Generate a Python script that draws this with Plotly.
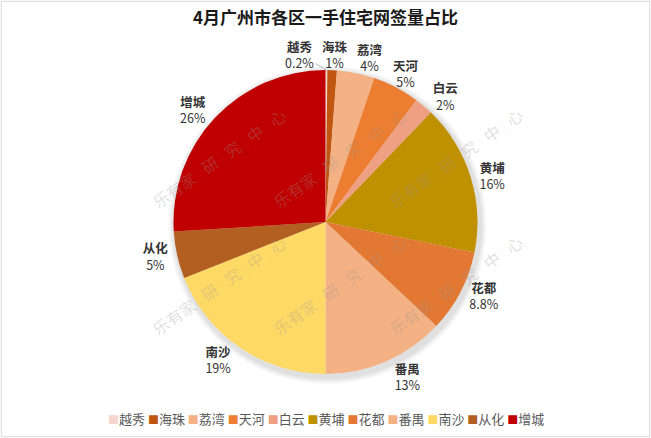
import math
import plotly.graph_objects as go

# ---- data ----
districts = ["越秀", "海珠", "荔湾", "天河", "白云", "黄埔", "花都", "番禺", "南沙", "从化", "增城"]
shares = [0.2, 1, 4, 5, 2, 16, 8.8, 13, 19, 5, 26]
share_labels = ["0.2%", "1%", "4%", "5%", "2%", "16%", "8.8%", "13%", "19%", "5%", "26%"]
colors = ["#F6D5CE", "#C0560F", "#F4B183", "#ED7D31", "#F0A082", "#BF9000",
          "#E37833", "#F4B183", "#FFD966", "#B35F22", "#C00000"]
title_text = "4月广州市各区一手住宅网签量占比"
sep = "<span style='color:rgba(170,170,170,0.25)'>|</span>"
watermark_text = f"乐有家 {sep} 研 {sep} 究 {sep} 中 {sep} 心"

W, H = 651, 438
FONT = "Noto Sans CJK SC"
CX, CY = 0.5, 0.493          # pie centre (paper)
R_PX = 152                   # pie radius (px)
LABEL_FONT = dict(family=FONT, size=12.5, color="#333333")
N_TOP = 4                    # crowded top slices labelled by annotations
TOP_NUDGE_PX = [0, 2, 11, 2] # small horizontal spacing tweaks for those labels

fig = go.Figure()

# soft shadow behind the pie
for extra, alpha in [(7, 0.035), (5, 0.04), (3, 0.05)]:
    rr = R_PX + extra
    sx, sy = CX + 2 / W, CY - 3 / H
    fig.add_trace(go.Pie(
        values=[1], labels=["shadow"], sort=False,
        marker=dict(colors=[f"rgba(0,0,0,{alpha})"], line=dict(width=0)),
        textinfo="none", hoverinfo="skip", showlegend=False,
        domain=dict(x=[sx - rr / W, sx + rr / W], y=[sy - rr / H, sy + rr / H]),
    ))

positions = ["none"] * N_TOP + ["outside"] * (len(districts) - N_TOP)

fig.add_trace(go.Pie(
    labels=districts,
    values=shares,
    text=share_labels,
    sort=False,
    direction="clockwise",
    rotation=0,
    marker=dict(colors=colors, line=dict(width=0)),
    textposition=positions,
    texttemplate="<b>%{label}</b><br>%{text}",
    textfont=LABEL_FONT,
    domain=dict(x=[CX - R_PX / W, CX + R_PX / W], y=[CY - R_PX / H, CY + R_PX / H]),
    showlegend=False,
    hoverinfo="label+text",
))

annotations = []

# mid-angles of the slices (clockwise from 12 o'clock)
total = sum(shares)
cum = 0.0
mids = []
for v in shares:
    mids.append((cum + v / 2) / total * 2 * math.pi)
    cum += v

# 越秀: leader line to the left
a0 = mids[0]
annotations.append(dict(
    x=CX + R_PX * math.sin(a0) / W, y=CY + R_PX * math.cos(a0) / H,
    xref="paper", yref="paper",
    text=f"<b>{districts[0]}</b><br>{share_labels[0]}",
    showarrow=True, arrowhead=0, arrowwidth=0.8, arrowcolor="#A6A6A6",
    ax=-27, ay=-16, xanchor="center", yanchor="middle",
    font=LABEL_FONT,
))
# other crowded top slices: label centred just outside the rim
for i in range(1, N_TOP):
    a = mids[i]
    d = R_PX + 16
    annotations.append(dict(
        x=CX + (d * math.sin(a) + TOP_NUDGE_PX[i]) / W, y=CY + d * math.cos(a) / H,
        xref="paper", yref="paper",
        text=f"<b>{districts[i]}</b><br>{share_labels[i]}",
        showarrow=False, xanchor="center", yanchor="middle",
        font=LABEL_FONT,
    ))

# watermarks
for cx in [145, 340, 530]:
    for cy in [100, 285]:
        annotations.append(dict(
            x=cx / W, y=1 - cy / H, xref="paper", yref="paper",
            text=watermark_text, showarrow=False, textangle=-35,
            font=dict(family=FONT, size=16, color="rgba(150,150,150,0.3)"),
        ))

# legend built from the data arrays
legend_text = " ".join(
    f"<span style='color:{c};font-size:11px'>■</span>{d}" for d, c in zip(districts, colors)
)
annotations.append(dict(
    x=0.5, y=1 - 418 / H, xref="paper", yref="paper", xanchor="center", yanchor="middle",
    text=legend_text, showarrow=False,
    font=dict(family=FONT, size=13, color="#595959"),
))

fig.update_layout(
    width=W, height=H,
    margin=dict(l=0, r=0, t=0, b=0, autoexpand=False),
    paper_bgcolor="white",
    plot_bgcolor="white",
    title=dict(text=f"<b>{title_text}</b>", x=0.5, xanchor="center", y=1 - 18 / H, yanchor="middle",
               font=dict(family=FONT, size=17, color="#1a1a1a")),
    annotations=annotations,
    shapes=[dict(type="rect", xref="paper", yref="paper", x0=0.002, y0=0.003, x1=0.998, y1=0.997,
                 line=dict(color="#D9D9D9", width=1), layer="below")],
)

fig.write_html("out.html", config={"displayModeBar": False},
               post_script="document.body.style.margin='0';")
